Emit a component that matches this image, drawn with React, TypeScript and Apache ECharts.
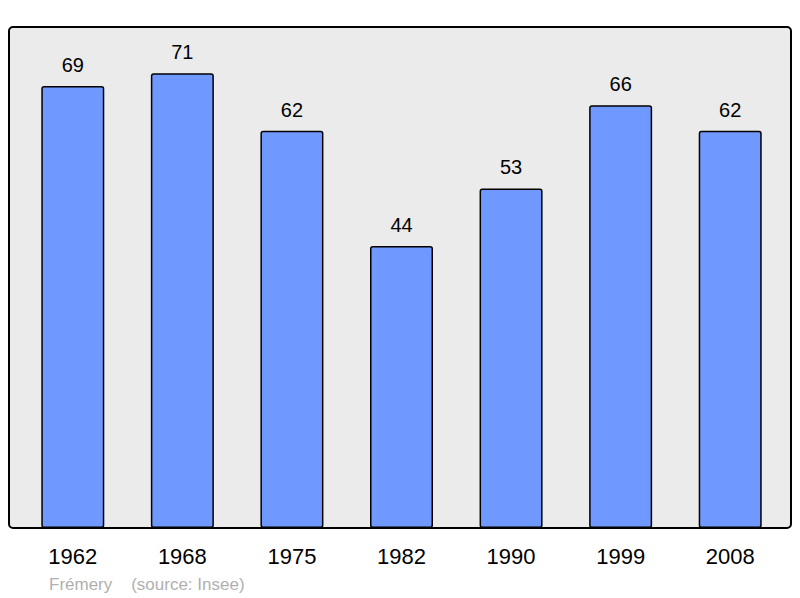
import React, { useEffect, useRef } from "react";
import * as echarts from "echarts";

const years = ["1962", "1968", "1975", "1982", "1990", "1999", "2008"];
const population = [69, 71, 62, 44, 53, 66, 62];
const footerText = "Frémery    (source: Insee)";

export default function App() {
  const ref = useRef<HTMLDivElement>(null);
  useEffect(() => {
    const chart = echarts.init(ref.current!, null, { renderer: "svg" });
    chart.setOption({
      animation: false,
      textStyle: { fontFamily: "Liberation Sans, Arial, sans-serif" },
      graphic: [
        {
          type: "rect",
          z: -10,
          shape: { x: 9, y: 27, width: 782, height: 501, r: 4 },
          style: { fill: "#ebebeb", stroke: "#000", lineWidth: 2 },
        },
        {
          type: "text",
          x: 49,
          y: 584,
          style: {
            text: footerText,
            fill: "#b0b0b0",
            font: "17px Liberation Sans, Arial, sans-serif",
            verticalAlign: "middle",
          },
        },
      ],
      grid: { left: 18, right: 15, top: 27, bottom: 70 },
      xAxis: {
        type: "category",
        data: years,
        boundaryGap: true,
        axisLine: { show: false },
        axisTick: { show: false },
        axisLabel: {
          color: "#000",
          fontSize: 22,
          margin: 17,
          fontFamily: "Liberation Sans, Arial, sans-serif",
        },
      },
      yAxis: {
        type: "value",
        min: 0,
        max: 78.2,
        show: false,
        splitLine: { show: false },
      },
      series: [
        {
          type: "bar",
          data: population,
          barWidth: 63,
          itemStyle: {
            color: "#7099ff",
            borderColor: "#000",
            borderWidth: 1.5,
            borderRadius: 2,
          },
          label: {
            show: true,
            position: "top",
            distance: 11,
            color: "#000",
            fontSize: 20,
            fontFamily: "Liberation Sans, Arial, sans-serif",
          },
        },
      ],
    });
    return () => chart.dispose();
  }, []);
  return (
    <div
      ref={ref}
      style={{ position: "absolute", left: 0, top: 0, width: 800, height: 598 }}
    />
  );
}
